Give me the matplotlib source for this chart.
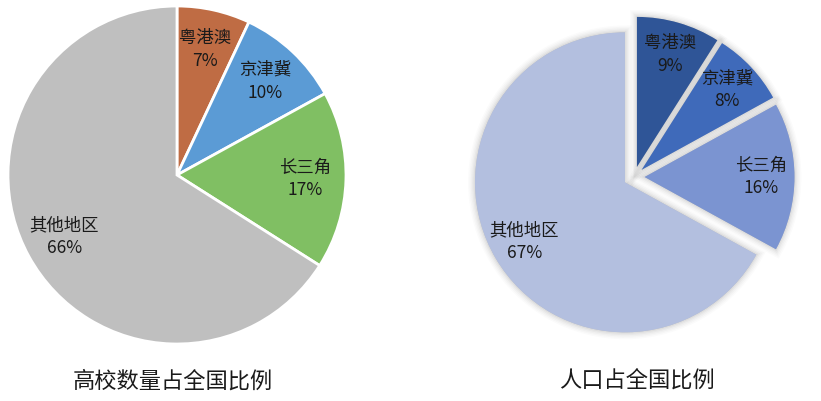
import matplotlib
matplotlib.use("Agg")
import matplotlib.pyplot as plt

plt.rcParams["font.family"] = ["Noto Sans CJK SC", "DejaVu Sans"]

regions = ["粤港澳", "京津冀", "长三角", "其他地区"]
univ_share = [7, 10, 17, 66]       # 高校数量占全国比例 (%)
pop_share = [9, 8, 16, 67]         # 人口占全国比例 (%)

univ_colors = ["#BF6C44", "#5B9BD5", "#80BF63", "#BFBFBF"]
pop_colors = ["#2F5597", "#3F6ABA", "#7B94D1", "#B3BFDF"]

W, H = 821, 401
fig = plt.figure(figsize=(W / 100, H / 100), dpi=100)


def px_axes(cx, cy, half):
    """axes square centred on (cx, cy) pixel coords (y from top), half-size in px"""
    return fig.add_axes([(cx - half) / W, (H - cy - half) / H, 2 * half / W, 2 * half / H])


def fix_labels(texts):
    for t in texts:
        t.set_horizontalalignment("center")
        t.set_verticalalignment("center")
        t.set_multialignment("center")


label_style = dict(fontsize=12.5, color="#1a1a1a", linespacing=1.35)

# left: university share
ax1 = px_axes(177, 175, 169)
labels1 = [f"{r}\n{v}%" for r, v in zip(regions, univ_share)]
_, texts1 = ax1.pie(univ_share, labels=labels1, colors=univ_colors, startangle=90, counterclock=False,
                    radius=1.0, labeldistance=0.76,
                    wedgeprops=dict(edgecolor="white", linewidth=2.0),
                    textprops=label_style)
fix_labels(texts1)
ax1.set_xlim(-1, 1); ax1.set_ylim(-1, 1); ax1.set_aspect("equal"); ax1.axis("off")

# right: population share, all slices pulled apart with a soft shadow
ax2 = px_axes(634, 177, 165)
explode = [0.07] * len(pop_share)
for lw, a in [(10, 0.014), (8, 0.018), (6, 0.024), (4, 0.03), (2, 0.04)]:
    ax2.pie(pop_share, colors=["#000000"] * 4, startangle=90, counterclock=False, radius=1.0,
            explode=explode, wedgeprops=dict(edgecolor="#000000", linewidth=lw, alpha=a))
labels2 = [f"{r}\n{v}%" for r, v in zip(regions, pop_share)]
_, texts2 = ax2.pie(pop_share, labels=labels2, colors=pop_colors, startangle=90, counterclock=False,
                    radius=1.0, labeldistance=0.78, explode=explode,
                    wedgeprops=dict(edgecolor="none"),
                    textprops=label_style)
fix_labels(texts2)
ax2.set_xlim(-1.1, 1.1); ax2.set_ylim(-1.1, 1.1); ax2.set_aspect("equal"); ax2.axis("off")

fig.text(173 / W, (H - 381) / H, "高校数量占全国比例", ha="center", va="center", fontsize=16, color="#1a1a1a")
fig.text(637 / W, (H - 381) / H, "人口占全国比例", ha="center", va="center", fontsize=16, color="#1a1a1a")

fig.savefig("out.png", dpi=100, facecolor="white")
